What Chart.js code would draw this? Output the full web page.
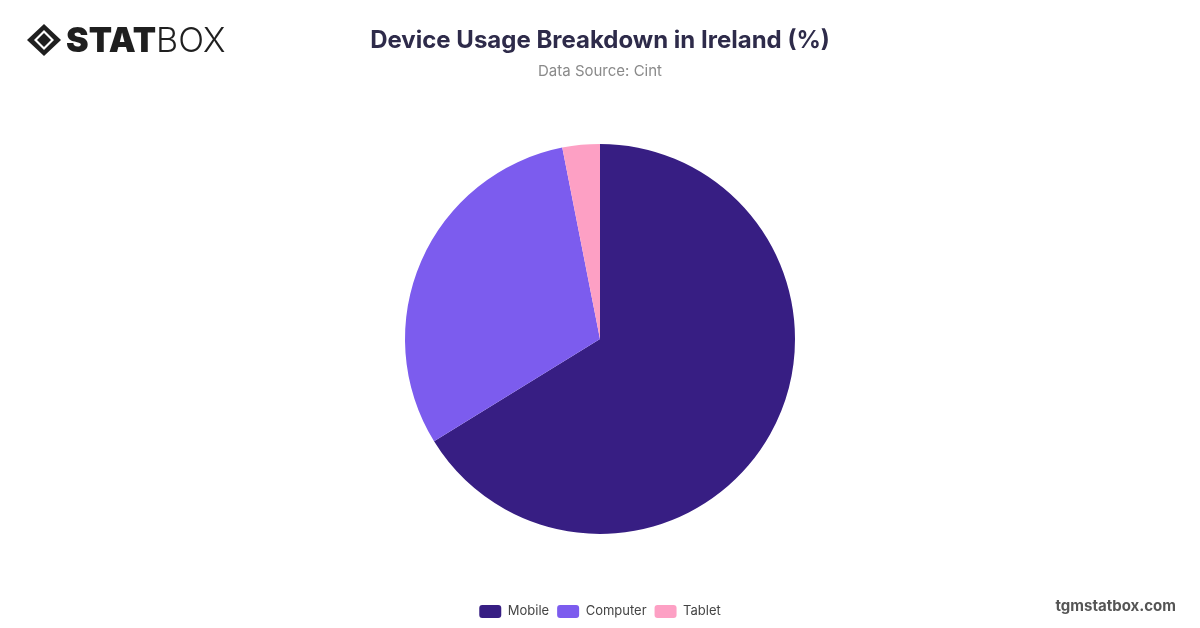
<!DOCTYPE html>
<html>
<head>
<meta charset="utf-8">
<script src="https://cdn.jsdelivr.net/npm/chart.js@4.4.0/dist/chart.umd.min.js"></script>
<style>
  html, body { margin: 0; padding: 0; background: #fff; }
  #wrap { position: relative; width: 1200px; height: 628px; overflow: hidden; }
  #chart { position: absolute; left: 0; top: 0; }
  .logo { position: absolute; left: 26px; top: 22px; display: flex; align-items: center; color: #1f1f1f; font-family: Inter, "Open Sans", sans-serif; }
  .logo svg { margin-right: 4px; }
  .logo .stat { font-size: 34px; font-weight: 900; letter-spacing: 0px; line-height: 36px; }
  .logo .box { font-size: 34px; font-weight: 300; line-height: 36px; }
  .site { position: absolute; right: 24px; top: 596px; font-family: Inter, "Open Sans", sans-serif; font-weight: 700; font-size: 15px; color: #555; }
</style>
</head>
<body>
<div id="wrap">
  <canvas id="chart" width="1200" height="628"></canvas>
  <div class="logo">
    <svg width="36" height="34" viewBox="0 0 36 34">
      <path d="M18 1 L35 17 L18 33 L1 17 Z" fill="#1f1f1f"/>
      <path d="M18 7 L28 17 L18 27 L8 17 Z" fill="#fff"/>
      <path d="M18 10 L25 17 L18 24 L11 17 Z" fill="#1f1f1f"/>
    </svg>
    <span class="stat">STAT</span><span class="box">BOX</span>
  </div>
  <div class="site">tgmstatbox.com</div>
</div>
<script>
// 數據
const devices = ['Mobile', 'Computer', 'Tablet'];
const shares = [66.2, 30.7, 3.1];
const sliceColors = ['#371E83', '#7C5CEE', '#FDA0C4'];

const ctx = document.getElementById('chart');
new Chart(ctx, {
  type: 'pie',
  data: {
    labels: devices,
    datasets: [{
      data: shares,
      backgroundColor: sliceColors,
      borderWidth: 0,
      radius: 195
    }]
  },
  options: {
    responsive: false,
    animation: false,
    layout: { padding: { top: 0, bottom: 0 } },
    plugins: {
      title: {
        display: true,
        text: 'Device Usage Breakdown in Ireland (%)',
        color: '#2E2B4A',
        font: { family: 'Inter', size: 24, weight: '700' },
        padding: { top: 26, bottom: 0 }
      },
      subtitle: {
        display: true,
        text: 'Data Source: Cint',
        color: '#8A8A8A',
        font: { family: 'Inter', size: 15, weight: '400' },
        padding: { top: 8, bottom: 0 }
      },
      legend: {
        position: 'bottom',
        labels: {
          boxWidth: 22,
          boxHeight: 13,
          useBorderRadius: true,
          borderRadius: 3,
          padding: 8,
          color: '#444',
          font: { family: 'Inter', size: 13 }
        }
      },
      tooltip: { enabled: false }
    }
  }
});
</script>
</body>
</html>
